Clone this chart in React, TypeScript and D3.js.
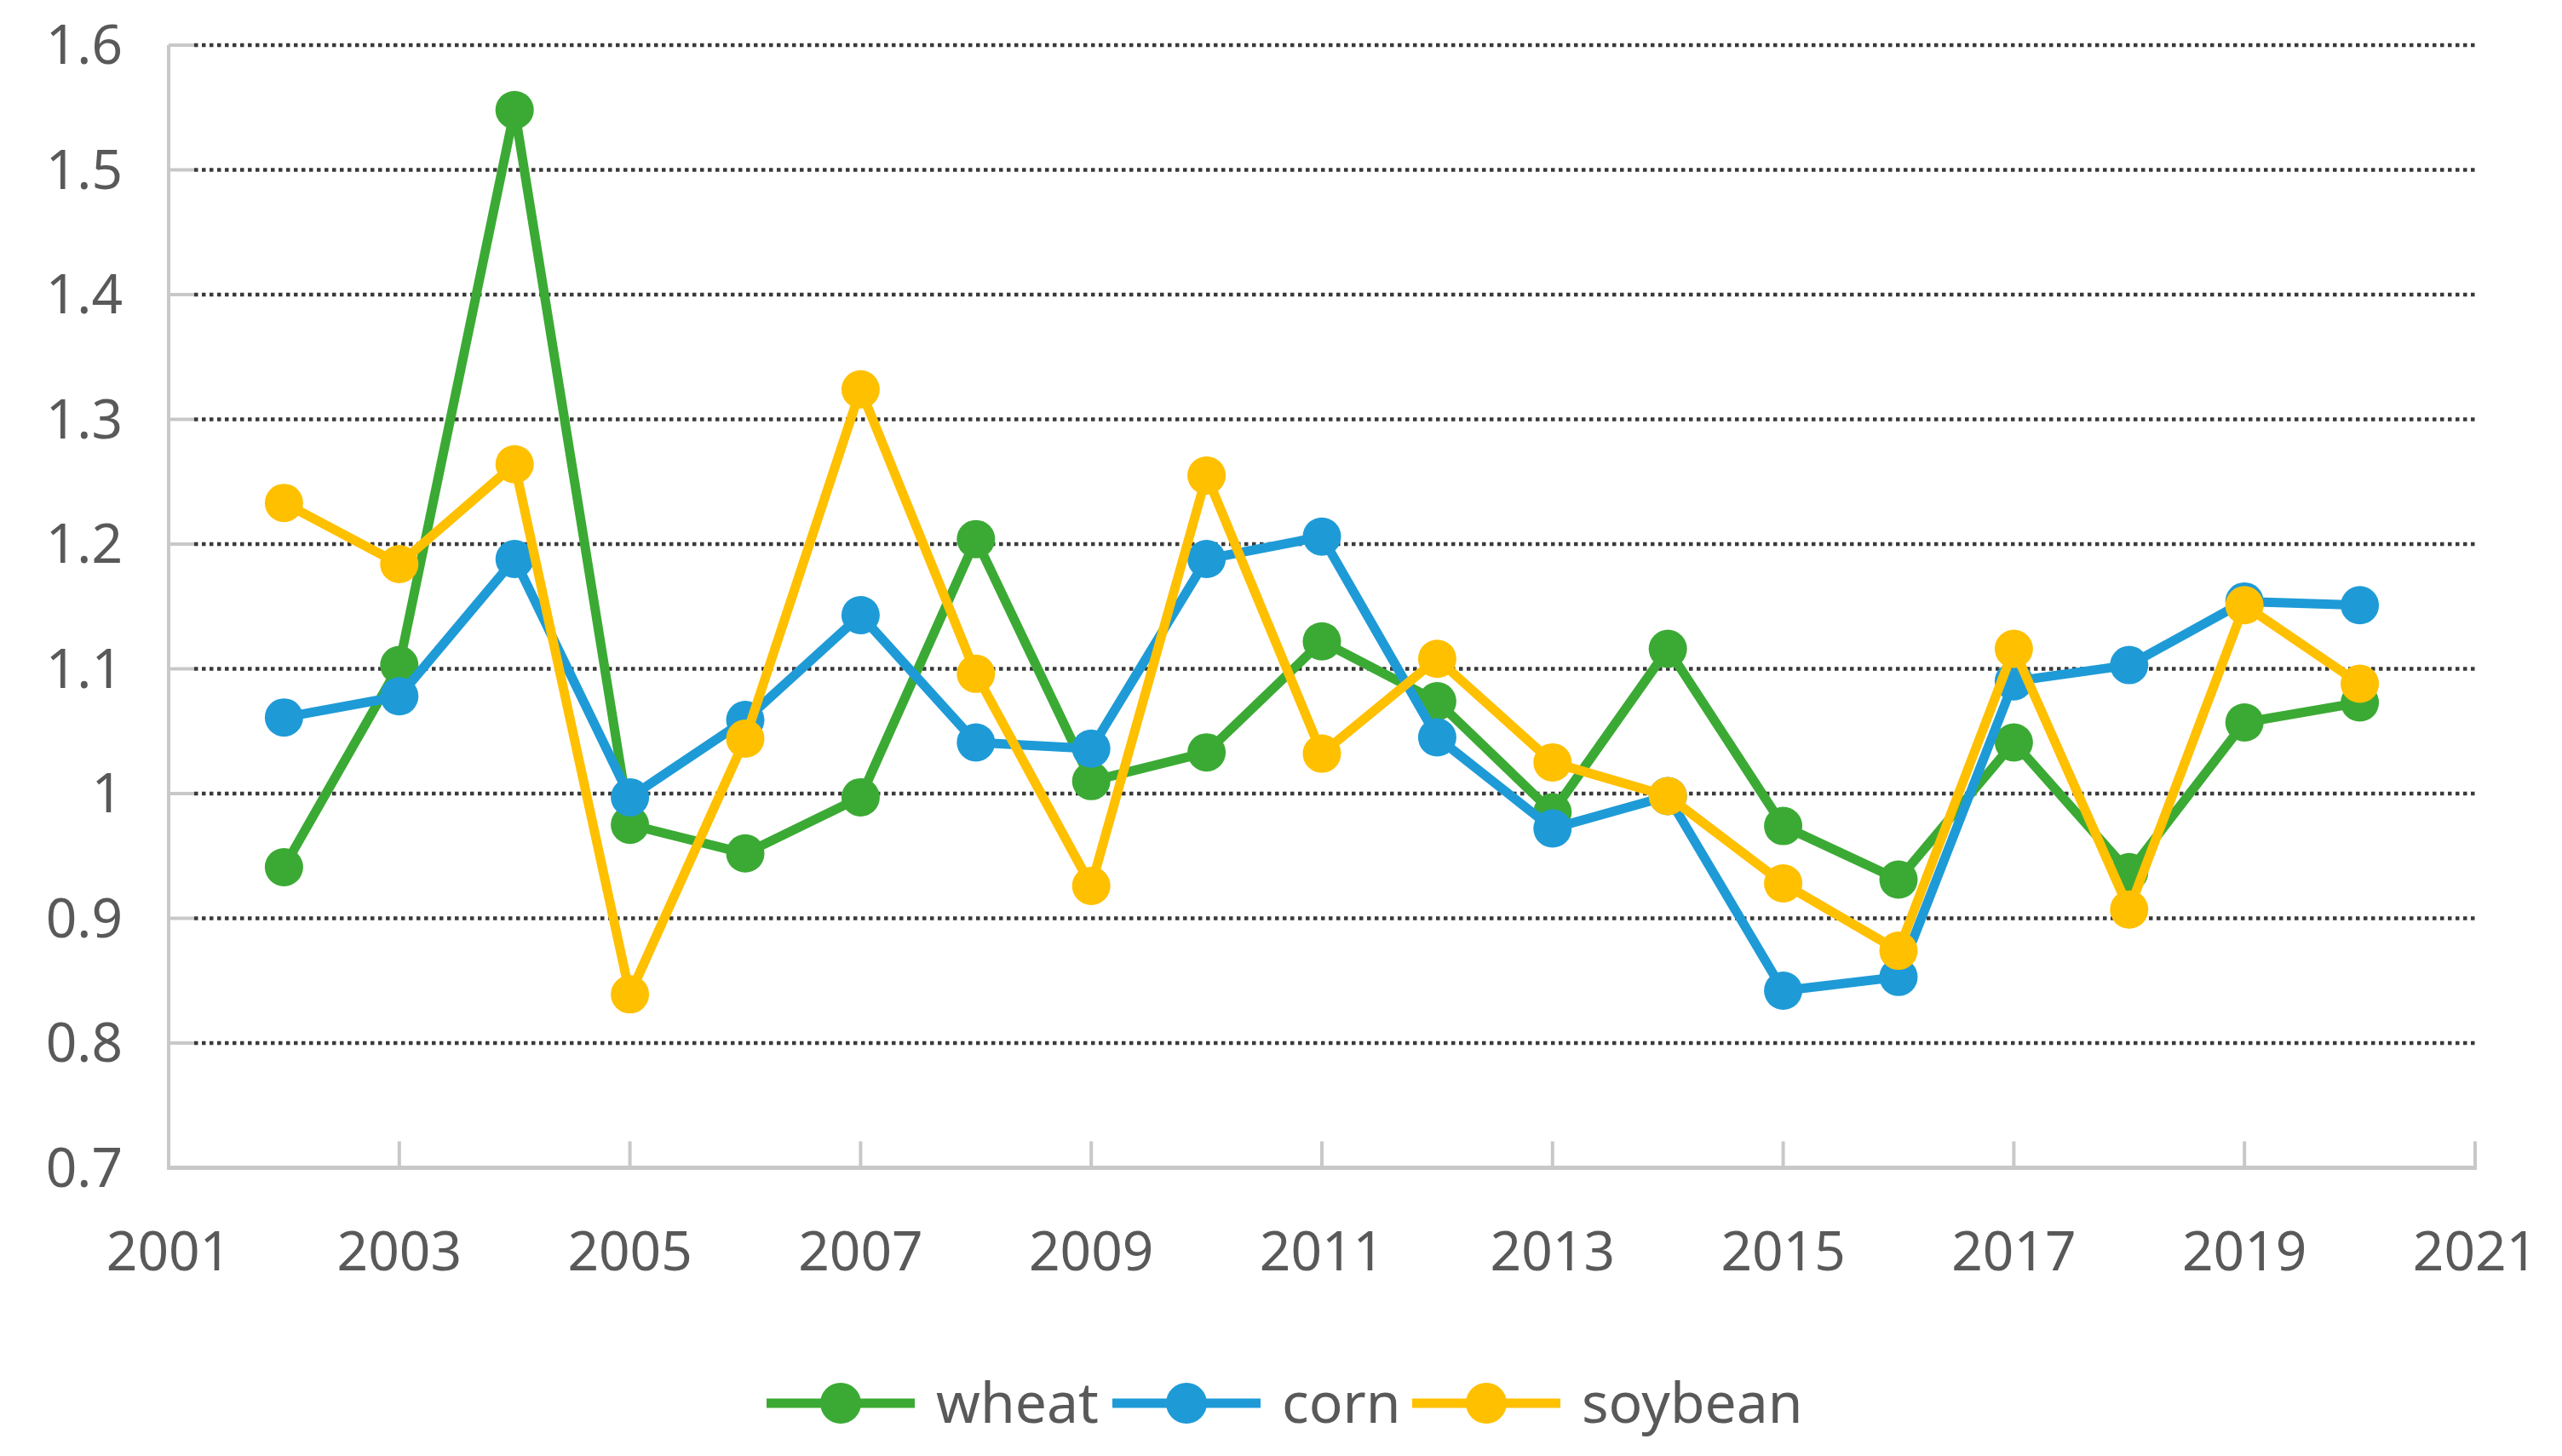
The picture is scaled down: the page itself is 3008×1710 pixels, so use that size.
import React from "react";
import * as d3 from "d3";

const years = [2002, 2003, 2004, 2005, 2006, 2007, 2008, 2009, 2010, 2011, 2012, 2013, 2014, 2015, 2016, 2017, 2018, 2019, 2020];
const wheat = [0.941, 1.103, 1.548, 0.975, 0.952, 0.997, 1.204, 1.01, 1.033, 1.122, 1.074, 0.985, 1.116, 0.974, 0.931, 1.041, 0.937, 1.057, 1.073];
const corn = [1.061, 1.078, 1.188, 0.997, 1.059, 1.143, 1.041, 1.036, 1.188, 1.206, 1.045, 0.972, 0.998, 0.842, 0.853, 1.09, 1.103, 1.154, 1.151];
const soybean = [1.233, 1.184, 1.264, 0.839, 1.044, 1.324, 1.096, 0.926, 1.255, 1.032, 1.108, 1.025, 0.998, 0.928, 0.874, 1.116, 0.907, 1.151, 1.088];
const seriesNames = ["wheat", "corn", "soybean"];
const seriesColors = ["#3BAA34", "#1E9BD7", "#FFC000"];
const xTicks = [2001, 2003, 2005, 2007, 2009, 2011, 2013, 2015, 2017, 2019, 2021];
const yTicks = [0.7, 0.8, 0.9, 1.0, 1.1, 1.2, 1.3, 1.4, 1.5, 1.6];

const W = 3008;
const H = 1710;
const left = 198;
const right = 2906;
const top = 53;
const bottom = 1371.5;
const font = "'Noto Sans', sans-serif";
const textColor = "#595959";

export default function App() {
  const x = d3.scaleLinear().domain([2001, 2021]).range([left, right]);
  const y = d3.scaleLinear().domain([0.7, 1.6]).range([bottom, top]);
  const line = d3
    .line<number>()
    .x((_, i) => x(years[i]))
    .y((d) => y(d));
  const allSeries = [wheat, corn, soybean];

  const legendItems = [
    { lineStart: 900, textX: 1099 },
    { lineStart: 1306, textX: 1505 },
    { lineStart: 1658, textX: 1857 },
  ];
  const legendY = 1648;

  return (
    <svg
      width={W}
      height={H}
      style={{ position: "absolute", left: 0, top: 0, background: "#fff" }}
      xmlns="http://www.w3.org/2000/svg"
    >
      <rect x={0} y={0} width={W} height={H} fill="#fff" />
      {/* gridlines */}
      {yTicks
        .filter((t) => t > 0.75)
        .map((t) => (
          <g key={"g" + t}>
            <line x1={left} x2={left + 30} y1={y(t)} y2={y(t)} stroke="#c8c8c8" strokeWidth={4} />
            <line
              x1={left + 30}
              x2={right}
              y1={y(t)}
              y2={y(t)}
              stroke="#3a3a3a"
              strokeWidth={4.5}
              strokeDasharray="4.5 4.5"
            />
          </g>
        ))}
      {/* axes */}
      <line x1={left} x2={left} y1={top} y2={bottom} stroke="#c8c8c8" strokeWidth={4} />
      <line x1={left - 2} x2={right + 2} y1={bottom} y2={bottom} stroke="#c8c8c8" strokeWidth={5} />
      {xTicks.map((t) => (
        <line key={"xt" + t} x1={x(t)} x2={x(t)} y1={bottom} y2={bottom - 31} stroke="#c8c8c8" strokeWidth={4} />
      ))}
      {/* y labels */}
      {yTicks.map((t) => (
        <text
          key={"yl" + t}
          x={144}
          y={y(t)}
          dy="0.35em"
          textAnchor="end"
          fontFamily={font}
          fontSize={64}
          fill={textColor}
        >
          {t === 1 ? "1" : t.toFixed(1)}
        </text>
      ))}
      {/* x labels */}
      {xTicks.map((t) => (
        <text
          key={"xl" + t}
          x={x(t)}
          y={1470}
          dy="0.35em"
          textAnchor="middle"
          fontFamily={font}
          fontSize={64}
          fill={textColor}
        >
          {t}
        </text>
      ))}
      {/* series */}
      {allSeries.map((s, si) => (
        <g key={"s" + si}>
          <path d={line(s) || ""} fill="none" stroke={seriesColors[si]} strokeWidth={11} strokeLinejoin="round" />
          {s.map((v, i) => (
            <circle key={i} cx={x(years[i])} cy={y(v)} r={22.5} fill={seriesColors[si]} />
          ))}
        </g>
      ))}
      {/* legend */}
      {seriesNames.map((n, i) => (
        <g key={"lg" + n}>
          <line
            x1={legendItems[i].lineStart}
            x2={legendItems[i].lineStart + 174}
            y1={legendY}
            y2={legendY}
            stroke={seriesColors[i]}
            strokeWidth={11}
          />
          <circle cx={legendItems[i].lineStart + 87} cy={legendY} r={24} fill={seriesColors[i]} />
          <text
            x={legendItems[i].textX}
            y={legendY}
            dy="0.35em"
            fontFamily={font}
            fontSize={66}
            fill={textColor}
          >
            {n}
          </text>
        </g>
      ))}
    </svg>
  );
}
